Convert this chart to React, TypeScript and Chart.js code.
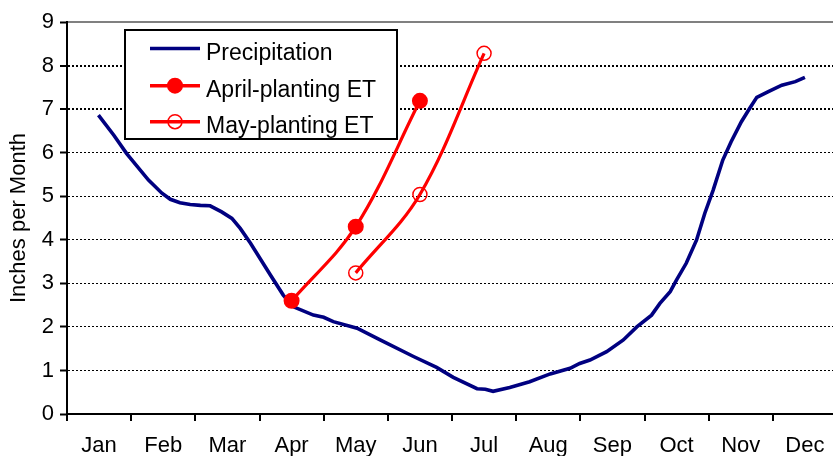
import { useEffect, useRef } from "react";
import { Chart, registerables } from "chart.js";

Chart.register(...registerables);

const FONT = '"Liberation Sans", Arial, Helvetica, sans-serif';

const months = ["Jan", "Feb", "Mar", "Apr", "May", "Jun", "Jul", "Aug", "Sep", "Oct", "Nov", "Dec"];
const seriesNames = ["Precipitation", "April-planting ET", "May-planting ET"];
const yAxisTitle = "Inches per Month";

// Precipitation curve (x = month number, 1 = mid-Jan)
const precipMonth = [
  0.99, 1.23, 1.43, 1.77, 1.98, 2.11, 2.26, 2.42, 2.58, 2.73,
  2.91, 3.07, 3.2, 3.36, 3.67, 3.87, 4.03, 4.34, 4.5, 4.65,
  5.02, 5.38, 5.9, 6.26, 6.52, 6.89, 7.02, 7.14, 7.4, 7.71,
  8.03, 8.34, 8.49, 8.65, 8.91, 9.17, 9.38, 9.61, 9.74, 9.9,
  10.0, 10.15, 10.31, 10.44, 10.57, 10.72, 10.85, 11.01, 11.14, 11.25,
  11.43, 11.64, 11.85, 12.0,
];
const precipInches = [
  6.86, 6.4, 5.98, 5.37, 5.07, 4.93, 4.85, 4.81, 4.79, 4.78,
  4.64, 4.49, 4.26, 3.92, 3.19, 2.73, 2.46, 2.27, 2.22, 2.12,
  1.97, 1.7, 1.32, 1.07, 0.84, 0.58, 0.57, 0.52, 0.61, 0.74,
  0.92, 1.05, 1.16, 1.24, 1.43, 1.7, 2.0, 2.27, 2.54, 2.81,
  3.08, 3.46, 3.99, 4.61, 5.14, 5.83, 6.25, 6.71, 7.02, 7.27,
  7.4, 7.55, 7.63, 7.73,
];

const aprilPlantingET = [null, null, null, 2.6, 4.3, 7.19, null, null, null, null, null, null];
const mayPlantingET = [null, null, null, null, 3.24, 5.04, 8.28, null, null, null, null, null];

const NAVY = "#000080";
const RED = "#FF0000";

const topBorderPlugin = {
  id: "topBorder",
  beforeDatasetsDraw(chart: any) {
    const { ctx, chartArea } = chart;
    ctx.save();
    ctx.strokeStyle = "#808080";
    ctx.lineWidth = 2;
    ctx.beginPath();
    ctx.moveTo(chartArea.left + 1, chartArea.top);
    ctx.lineTo(chart.width, chartArea.top);
    ctx.stroke();
    ctx.restore();
  },
};

const boxLegendPlugin = {
  id: "boxLegend",
  afterDatasetsDraw(chart: any) {
    const { ctx } = chart;
    const ds = chart.data.datasets;
    ctx.save();
    const bx = 125, by = 30, bw = 272, bh = 109;
    ctx.fillStyle = "#ffffff";
    ctx.fillRect(bx, by, bw, bh);
    ctx.strokeStyle = "#000000";
    ctx.lineWidth = 2;
    ctx.strokeRect(bx, by, bw, bh);
    const rows = [48.5, 85.7, 121.7];
    ds.forEach((d: any, i: number) => {
      const y = rows[i];
      ctx.strokeStyle = d.borderColor;
      ctx.lineWidth = 3.4;
      ctx.beginPath();
      ctx.moveTo(150, y);
      ctx.lineTo(200, y);
      ctx.stroke();
      if (d.pointRadius > 0) {
        ctx.beginPath();
        ctx.arc(175, y, d.pointRadius, 0, Math.PI * 2);
        ctx.fillStyle = d.pointBackgroundColor;
        ctx.fill();
        ctx.lineWidth = d.pointBorderWidth;
        ctx.strokeStyle = d.pointBorderColor;
        ctx.stroke();
      }
      ctx.fillStyle = "#000000";
      ctx.font = `23px ${FONT}`;
      ctx.textAlign = "left";
      ctx.textBaseline = "alphabetic";
      ctx.fillText(d.label, 206, y + 11.6);
    });
    ctx.restore();
  },
};

export default function App() {
  const ref = useRef<HTMLCanvasElement>(null);

  useEffect(() => {
    document.body.style.margin = "0";
    const canvas = ref.current;
    if (!canvas) return;
    const chart = new Chart(canvas, {
      type: "line",
      data: {
        labels: months,
        datasets: [
          {
            label: seriesNames[0],
            data: precipMonth.map((m, i) => ({ x: m, y: precipInches[i] })),
            xAxisID: "x2",
            borderColor: NAVY,
            borderWidth: 3.6,
            pointRadius: 0,
            tension: 0,
            order: 2,
          } as any,
          {
            label: seriesNames[1],
            data: aprilPlantingET,
            xAxisID: "x",
            borderColor: RED,
            borderWidth: 3.2,
            pointRadius: 7,
            pointBorderWidth: 2,
            pointBackgroundColor: RED,
            pointBorderColor: RED,
            tension: 0.35,
            spanGaps: true,
            order: 0,
          },
          {
            label: seriesNames[2],
            data: mayPlantingET,
            xAxisID: "x",
            borderColor: RED,
            borderWidth: 3.2,
            pointRadius: 7,
            pointBorderWidth: 1.5,
            pointBackgroundColor: "rgba(0,0,0,0)",
            pointBorderColor: RED,
            tension: 0.35,
            spanGaps: true,
            order: 1,
          },
        ],
      },
      options: {
        responsive: false,
        animation: false,
        events: [],
        layout: { padding: { top: 22, right: 1, left: 0, bottom: 0 } },
        plugins: {
          legend: { display: false },
          tooltip: { enabled: false },
        },
        scales: {
          x: {
            type: "category",
            offset: true,
            grid: {
              offset: true,
              drawOnChartArea: false,
              drawTicks: true,
              tickLength: 7,
              tickColor: "#000",
              tickWidth: 2,
              color: "#000",
              lineWidth: 2,
            },
            border: { display: true, color: "#000", width: 2 },
            ticks: {
              font: { size: 22, family: FONT },
              color: "#000",
              padding: 12,
              maxRotation: 0,
              autoSkip: false,
            },
            afterFit: (s: any) => {
              s.height = 42;
              s.paddingLeft = 0;
              s.paddingRight = 0;
            },
          },
          x2: {
            type: "linear",
            display: false,
            min: 0.5,
            max: 12.5,
          },
          y: {
            min: 0,
            max: 9,
            ticks: {
              stepSize: 1,
              font: { size: 22, family: FONT },
              color: "#000",
              padding: 6,
            },
            grid: {
              color: (c: any) => (c.tick && (c.tick.value === 0 || c.tick.value === 9) ? "rgba(0,0,0,0)" : "#000"),
              lineWidth: (c: any) => (c.tick && (c.tick.value === 7 || c.tick.value === 8) ? 2 : 1),
              drawTicks: true,
              tickLength: 7,
              tickColor: "#000",
              tickWidth: 2,
            },
            border: { display: true, color: "#000", width: 2, dash: [2, 2] },
            title: {
              display: true,
              text: yAxisTitle,
              color: "#000",
              font: { size: 22, family: FONT },
              padding: { top: 6, bottom: 0 },
            },
            afterFit: (s: any) => {
              s.width = 67;
            },
          },
        },
      },
      plugins: [topBorderPlugin, boxLegendPlugin],
    });
    return () => chart.destroy();
  }, []);

  return (
    <div
      style={{
        position: "fixed",
        left: 0,
        top: 0,
        width: 833,
        height: 456,
        overflow: "hidden",
        background: "#ffffff",
      }}
    >
      <canvas ref={ref} width={846} height={456} style={{ display: "block", width: 846, height: 456 }} />
    </div>
  );
}
